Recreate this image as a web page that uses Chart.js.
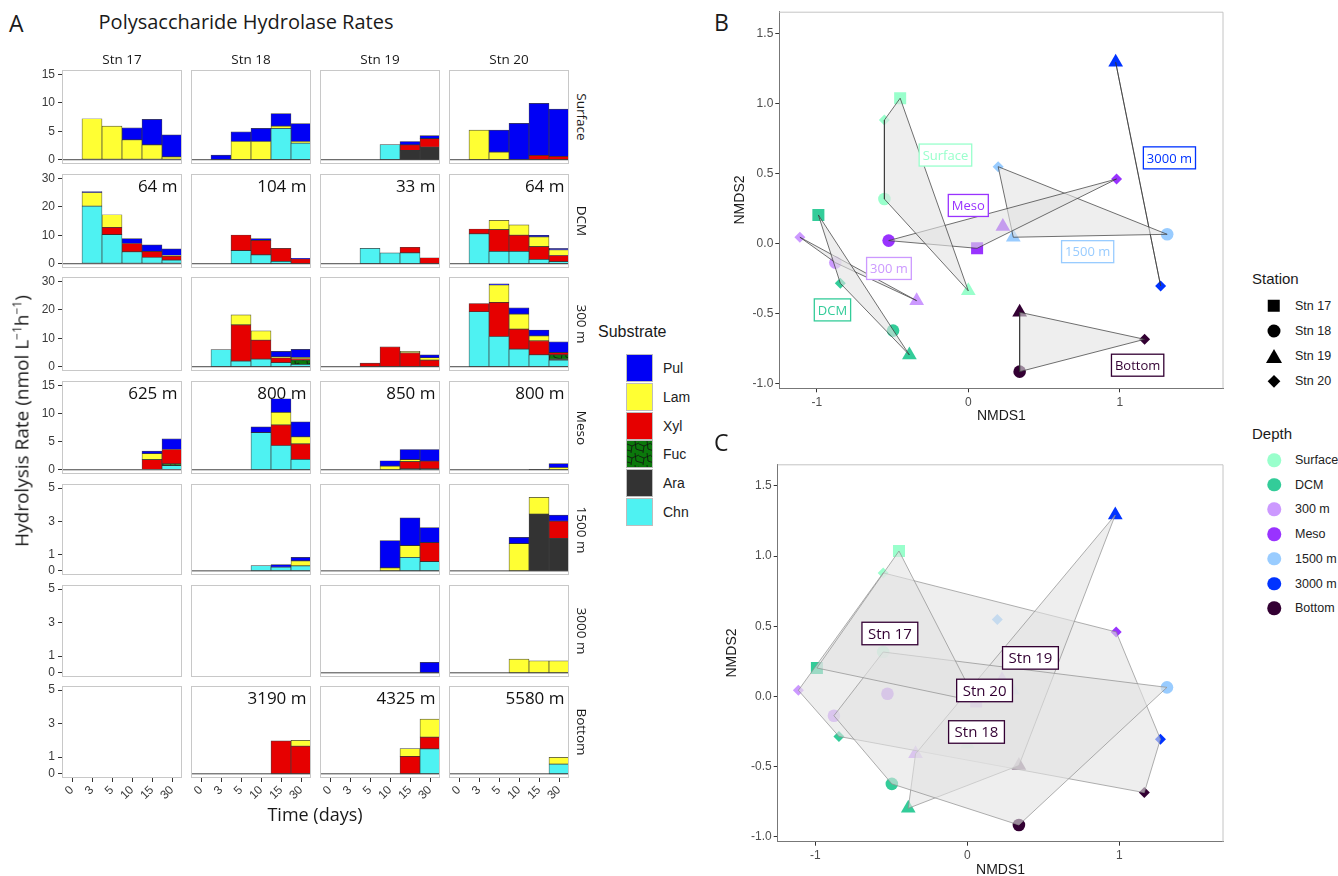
<!DOCTYPE html>
<html>
<head>
<meta charset="utf-8">
<title>Polysaccharide Hydrolase Rates</title>
<script src="https://cdn.jsdelivr.net/npm/chart.js@4.4.1/dist/chart.umd.min.js"></script>
<style>
  body { margin: 0; background: #fff; overflow: hidden; }
  #fig { position: relative; width: 1338px; height: 876px; font-family: "Open Sans", sans-serif; color: #1a1a1a; }
  #fig canvas, #fig .t { position: absolute; }
  #fig .t { white-space: nowrap; line-height: 1.2; }
</style>
</head>
<body>
<div id="fig"></div>
<script>
// ---- data ----
const DAYS = ['0', '3', '5', '10', '15', '30'];
const SUBSTRATES = ['Chn', 'Ara', 'Fuc', 'Xyl', 'Lam', 'Pul'];   // stacking order, bottom to top
const STATIONS = ['Stn 17', 'Stn 18', 'Stn 19', 'Stn 20'];
const DEPTHS = ['Surface', 'DCM', '300 m', 'Meso', '1500 m', '3000 m', 'Bottom'];
const ROW_MAX = [15, 30, 30, 15, 5, 5, 5];
const TICKS_15 = [0, 5, 10, 15];
const TICKS_30 = [0, 10, 20, 30];
const TICKS_5 = [0, 1, 3, 5];
const ROW_TICKS = [TICKS_15, TICKS_30, TICKS_30, TICKS_15, TICKS_5, TICKS_5, TICKS_5];
const DCM_DEPTH = ['64 m', '104 m', '33 m', '64 m'];
const MESO_DEPTH = ['625 m', '800 m', '850 m', '800 m'];
const BOTTOM_DEPTH = [null, '3190 m', '4325 m', '5580 m'];

// hydrolysis rates (nmol L-1 h-1); rows Chn, Ara, Fuc, Xyl, Lam, Pul; columns = DAYS
const STN17_SURFACE = [
  [0, 0, 0, 0, 0, 0],
  [0, 0, 0, 0, 0, 0],
  [0, 0, 0, 0, 0, 0],
  [0, 0, 0, 0, 0, 0],
  [0, 7.2, 5.9, 3.5, 2.6, 0.5],
  [0, 0, 0, 2.1, 4.5, 3.85]
];
const STN18_SURFACE = [
  [0, 0, 0, 0, 5.5, 2.9],
  [0, 0, 0, 0, 0, 0],
  [0, 0, 0, 0, 0, 0],
  [0, 0, 0, 0, 0, 0],
  [0, 0, 3.2, 3.2, 0.4, 0.3],
  [0, 0.8, 1.7, 2.3, 2.2, 3.15]
];
const STN19_SURFACE = [
  [0, 0, 0, 2.65, 0, 0],
  [0, 0, 0, 0, 1.65, 2.2],
  [0, 0, 0, 0, 0, 0],
  [0, 0, 0, 0, 0.95, 1.5],
  [0, 0, 0, 0, 0, 0],
  [0, 0, 0, 0, 0.6, 0.55]
];
const STN20_SURFACE = [
  [0, 0, 0, 0, 0, 0],
  [0, 0, 0, 0, 0, 0],
  [0, 0, 0, 0, 0, 0],
  [0, 0, 0, 0, 0.75, 0.6],
  [0, 5.2, 1.35, 0, 0, 0],
  [0, 0, 3.85, 6.4, 9.15, 8.3]
];
const STN17_DCM = [
  [0, 20.2, 10.2, 4.2, 2.2, 1.3],
  [0, 0, 0, 0, 0, 0],
  [0, 0, 0, 0, 0, 0],
  [0, 0, 2.6, 2.9, 2.15, 1.4],
  [0, 4.8, 4.4, 0, 0, 0.2],
  [0, 0.3, 0, 1.7, 2.25, 2.3]
];
const STN18_DCM = [
  [0, 0, 4.6, 3.1, 0.8, 0],
  [0, 0, 0, 0, 0, 0],
  [0, 0, 0, 0, 0, 0],
  [0, 0, 5.5, 5.1, 4.6, 1.7],
  [0, 0, 0, 0, 0, 0],
  [0, 0, 0, 0.6, 0, 0.2]
];
const STN19_DCM = [
  [0, 0, 5.4, 3.8, 3.8, 0],
  [0, 0, 0, 0, 0, 0],
  [0, 0, 0, 0, 0, 0],
  [0, 0, 0, 0, 2.0, 2.1],
  [0, 0, 0, 0, 0, 0],
  [0, 0, 0, 0, 0, 0]
];
const STN20_DCM = [
  [0, 10.5, 4.35, 4.35, 1.5, 0.7],
  [0, 0, 0, 0, 0, 0],
  [0, 0, 0, 0, 0, 0],
  [0, 1.7, 7.65, 5.65, 4.5, 2.2],
  [0, 0, 3.2, 3.65, 3.4, 2.0],
  [0, 0, 0, 0, 0.6, 0.5]
];
const STN18_300 = [
  [0, 6.0, 2.0, 2.7, 1.4, 0.8],
  [0, 0, 0, 0, 0, 0],
  [0, 0, 0, 0, 0, 1.5],
  [0, 0, 12.7, 6.6, 1.7, 0.5],
  [0, 0, 3.5, 3.3, 0.4, 0.5],
  [0, 0, 0, 0, 1.9, 2.8]
];
const STN19_300 = [
  [0, 0, 0, 0, 0, 0],
  [0, 0, 0, 0, 0, 0],
  [0, 0, 0, 0, 0, 0],
  [0, 0, 1.3, 7.0, 4.9, 2.35],
  [0, 0, 0, 0, 0.5, 0.8],
  [0, 0, 0, 0, 0, 1.0]
];
const STN20_300 = [
  [0, 19.3, 10.6, 6.2, 4.2, 2.35],
  [0, 0, 0, 0, 0, 0.3],
  [0, 0, 0, 0, 0, 1.5],
  [0, 2.9, 12.0, 7.0, 4.9, 0.8],
  [0, 0, 6.1, 5.3, 1.7, 0],
  [0, 0, 0.4, 2.2, 2.1, 3.8]
];
const STN17_MESO = [
  [0, 0, 0, 0, 0, 0.75],
  [0, 0, 0, 0, 0, 0],
  [0, 0, 0, 0, 0, 0.3],
  [0, 0, 0, 0, 1.8, 2.55],
  [0, 0, 0, 0, 1.05, 0],
  [0, 0, 0, 0, 0.45, 1.9]
];
const STN18_MESO = [
  [0, 0, 0, 6.6, 4.3, 1.85],
  [0, 0, 0, 0, 0, 0],
  [0, 0, 0, 0, 0, 0],
  [0, 0, 0, 0, 3.65, 2.75],
  [0, 0, 0, 0, 2.25, 1.25],
  [0, 0, 0, 1.0, 2.4, 2.65]
];
const STN19_MESO = [
  [0, 0, 0, 0, 0.15, 0.15],
  [0, 0, 0, 0, 0, 0],
  [0, 0, 0, 0, 0, 0],
  [0, 0, 0, 0, 1.3, 1.4],
  [0, 0, 0, 0.65, 0.35, 0],
  [0, 0, 0, 0.95, 1.8, 2.05]
];
const STN20_MESO = [
  [0, 0, 0, 0, 0, 0],
  [0, 0, 0, 0, 0.1, 0],
  [0, 0, 0, 0, 0, 0],
  [0, 0, 0, 0, 0, 0],
  [0, 0, 0, 0, 0, 0.4],
  [0, 0, 0, 0, 0, 0.7]
];
const STN18_1500 = [
  [0, 0, 0, 0.32, 0.22, 0.3],
  [0, 0, 0, 0, 0, 0],
  [0, 0, 0, 0, 0, 0],
  [0, 0, 0, 0, 0, 0],
  [0, 0, 0, 0, 0, 0.3],
  [0, 0, 0, 0, 0.16, 0.22]
];
const STN19_1500 = [
  [0, 0, 0, 0, 0.82, 0.56],
  [0, 0, 0, 0, 0, 0],
  [0, 0, 0, 0, 0, 0],
  [0, 0, 0, 0, 0, 1.15],
  [0, 0, 0, 0.18, 0.71, 0],
  [0, 0, 0, 1.65, 1.67, 0.9]
];
const STN20_1500 = [
  [0, 0, 0, 0, 0, 0],
  [0, 0, 0, 0, 3.43, 1.97],
  [0, 0, 0, 0, 0, 0],
  [0, 0, 0, 0, 0, 1.03],
  [0, 0, 0, 1.65, 1.01, 0],
  [0, 0, 0, 0.38, 0, 0.37]
];
const STN19_3000 = [
  [0, 0, 0, 0, 0, 0],
  [0, 0, 0, 0, 0, 0],
  [0, 0, 0, 0, 0, 0],
  [0, 0, 0, 0, 0, 0],
  [0, 0, 0, 0, 0, 0],
  [0, 0, 0, 0, 0, 0.62]
];
const STN20_3000 = [
  [0, 0, 0, 0, 0, 0],
  [0, 0, 0, 0, 0, 0],
  [0, 0, 0, 0, 0, 0],
  [0, 0, 0, 0, 0, 0],
  [0, 0, 0, 0.82, 0.72, 0.72],
  [0, 0, 0, 0, 0, 0]
];
const STN18_BOTTOM = [
  [0, 0, 0, 0, 0, 0],
  [0, 0, 0, 0, 0, 0],
  [0, 0, 0, 0, 0, 0],
  [0, 0, 0, 0, 1.97, 1.65],
  [0, 0, 0, 0, 0, 0.35],
  [0, 0, 0, 0, 0, 0]
];
const STN19_BOTTOM = [
  [0, 0, 0, 0, 0, 1.49],
  [0, 0, 0, 0, 0, 0],
  [0, 0, 0, 0, 0, 0],
  [0, 0, 0, 0, 1.04, 0.7],
  [0, 0, 0, 0, 0.47, 1.08],
  [0, 0, 0, 0, 0, 0]
];
const STN20_BOTTOM = [
  [0, 0, 0, 0, 0, 0.58],
  [0, 0, 0, 0, 0, 0],
  [0, 0, 0, 0, 0, 0],
  [0, 0, 0, 0, 0, 0],
  [0, 0, 0, 0, 0, 0.4],
  [0, 0, 0, 0, 0, 0]
];
// rows = DEPTHS, columns = STATIONS (null = not sampled)
const PANELS = [
  [STN17_SURFACE, STN18_SURFACE, STN19_SURFACE, STN20_SURFACE],
  [STN17_DCM, STN18_DCM, STN19_DCM, STN20_DCM],
  [null, STN18_300, STN19_300, STN20_300],
  [STN17_MESO, STN18_MESO, STN19_MESO, STN20_MESO],
  [null, STN18_1500, STN19_1500, STN20_1500],
  [null, null, STN19_3000, STN20_3000],
  [null, STN18_BOTTOM, STN19_BOTTOM, STN20_BOTTOM]
];

// NMDS scores, indexed by DEPTHS (null = not sampled)
const NMDS1_STN17 = [-0.45, -0.99, null, 0.058, null, null, null];
const NMDS2_STN17 = [1.036, 0.202, null, -0.036, null, null, null];
const NMDS1_STN18 = [-0.554, -0.497, -0.878, -0.526, 1.313, null, 0.339];
const NMDS2_STN18 = [0.316, -0.624, -0.138, 0.019, 0.064, null, -0.917];
const NMDS1_STN19 = [0.0, -0.389, -0.341, 0.228, 0.297, 0.973, 0.339];
const NMDS2_STN19 = [-0.34, -0.798, -0.41, 0.119, 0.043, 1.293, -0.493];
const NMDS1_STN20 = [-0.554, -0.845, -1.112, 0.979, 0.197, 1.27, 1.164];
const NMDS2_STN20 = [0.88, -0.286, 0.043, 0.459, 0.547, -0.305, -0.686];
const NMDS1 = [NMDS1_STN17, NMDS1_STN18, NMDS1_STN19, NMDS1_STN20];
const NMDS2 = [NMDS2_STN17, NMDS2_STN18, NMDS2_STN19, NMDS2_STN20];

// label anchors (data units)
const DEPTH_LABEL_X = [-0.151, -0.897, -0.524, 0.0, 0.788, 1.328, 1.118];
const DEPTH_LABEL_Y = [0.63, -0.476, -0.18, 0.27, -0.06, 0.61, -0.871];
const STN_LABEL_X = [-0.51, 0.06, 0.415, 0.113];
const STN_LABEL_Y = [0.448, -0.254, 0.274, 0.042];
const NMDS_X_TICKS = [-1, 0, 1];
const NMDS_Y_TICKS = [-1, -0.5, 0, 0.5, 1, 1.5];

// ---- styles ----
const SUB_COLORS = ['#4ef2f2', '#333333', '#0b780b', '#e60000', '#ffff33', '#0000f5'];
const DEPTH_COLORS = ['#99ffcc', '#33cc99', '#cc99ff', '#9933ff', '#99ccff', '#0033ff', '#330033'];
const STN_SHAPES = ['rect', 'circle', 'triangle', 'rectRot'];
const STN_RADIUS = [8.5, 6.3, 8.5, 5.5];

Chart.defaults.font.family = '"Liberation Sans", Arial, sans-serif';
Chart.defaults.color = '#4d4d4d';

const fig = document.getElementById('fig');

function txt(html, css) {
  const d = document.createElement('div');
  d.className = 't';
  d.innerHTML = html;
  Object.assign(d.style, css);
  fig.appendChild(d);
  return d;
}
function addCanvas(left, top, w, h) {
  const c = document.createElement('canvas');
  c.width = w; c.height = h;
  Object.assign(c.style, { left: left + 'px', top: top + 'px', width: w + 'px', height: h + 'px' });
  fig.appendChild(c);
  return c;
}

// Fucoidan is drawn with a cracked dark-green texture
function fucTile() {
  const c = document.createElement('canvas');
  c.width = 12; c.height = 12;
  const g = c.getContext('2d');
  g.fillStyle = SUB_COLORS[2];
  g.fillRect(0, 0, 12, 12);
  g.strokeStyle = '#111';
  g.lineWidth = 0.8;
  g.beginPath();
  g.moveTo(0, 3); g.lineTo(5, 5); g.lineTo(12, 2);
  g.moveTo(5, 5); g.lineTo(4, 12);
  g.moveTo(8, 0); g.lineTo(9, 8); g.lineTo(12, 9);
  g.moveTo(0, 9); g.lineTo(4, 10);
  g.stroke();
  return c;
}
const FUC_TILE = fucTile();
const FUC_PATTERN = FUC_TILE.getContext('2d').createPattern(FUC_TILE, 'repeat');
const SUB_FILLS = SUB_COLORS.map((c, i) => i === 2 ? FUC_PATTERN : c);

// ---- panel A ----
const COL_LEFT = [62, 191, 320, 449];
const PANEL_W = 120;
const ROW_TOP = [70, 174, 277, 381, 484, 585, 686];
const ROW_H = [94, 94, 94, 93, 91, 92, 92];
const YAXIS_W = 40, XAXIS_H = 30, LABEL_ROOM = 8;

const panelBox = {
  id: 'panelBox',
  afterDatasetsDraw(chart, args, opts) {
    const { ctx, chartArea: a, scales: { x, y } } = chart;
    ctx.save();
    if (opts.baseline) {
      const step = x.getPixelForValue(1) - x.getPixelForValue(0);
      const y0 = y.getPixelForValue(0);
      ctx.strokeStyle = '#444';
      ctx.lineWidth = 1;
      ctx.beginPath();
      ctx.moveTo(x.getPixelForValue(0) - step / 2, y0);
      ctx.lineTo(x.getPixelForValue(DAYS.length - 1) + step / 2, y0);
      ctx.stroke();
    }
    ctx.strokeStyle = '#c8c8c8';
    ctx.lineWidth = 1;
    ctx.strokeRect(a.left + 0.5, a.top + 0.5, a.width - 1, a.height - 1);
    ctx.restore();
  }
};

DEPTHS.forEach((depth, r) => {
  STATIONS.forEach((stn, c) => {
    const panel = PANELS[r][c];
    const firstCol = c === 0, lastRow = r === DEPTHS.length - 1;
    const room = firstCol ? LABEL_ROOM : 0;     // space above the box for the top tick label
    const left = COL_LEFT[c] - (firstCol ? YAXIS_W : 0);
    const w = PANEL_W + (firstCol ? YAXIS_W : 0);
    const h = ROW_H[r] + room + (lastRow ? XAXIS_H : 0);
    const canvas = addCanvas(left, ROW_TOP[r] - room, w, h);
    const max = ROW_MAX[r];
    new Chart(canvas, {
      type: 'bar',
      data: {
        labels: DAYS,
        datasets: panel ? SUBSTRATES.map((s, k) => ({
          label: s,
          data: panel[k],
          backgroundColor: SUB_FILLS[k],
          borderColor: 'rgba(35,35,35,0.85)',
          borderWidth: 0.7,
          borderSkipped: false,
          barPercentage: 1,
          categoryPercentage: 1
        })) : []
      },
      options: {
        responsive: false, animation: false, events: [], devicePixelRatio: 1,
        layout: { padding: { top: room, left: 0, right: 0, bottom: 0 } },
        plugins: { legend: { display: false }, tooltip: { enabled: false }, panelBox: { baseline: !!panel } },
        scales: {
          x: {
            stacked: true, offset: true, display: lastRow,
            grid: { offset: false, drawOnChartArea: false, tickLength: 4, color: '#333' },
            border: { display: false },
            ticks: { autoSkip: false, minRotation: 45, maxRotation: 45, padding: 1, color: '#3a3a3a', font: { size: 12 } },
            afterFit: s => {
              if (!lastRow) return;
              s.height = XAXIS_H;
              s.paddingLeft = 0; s.paddingRight = 0;
            }
          },
          y: {
            stacked: true, min: -0.05 * max, max: 1.05 * max, display: firstCol,
            afterBuildTicks: s => { s.ticks = ROW_TICKS[r].map(v => ({ value: v })); },
            grid: { drawOnChartArea: false, tickLength: 4, color: '#333' },
            border: { display: false },
            ticks: { padding: 3, color: '#3a3a3a', font: { size: 12 } },
            afterFit: s => {
              if (!firstCol) return;
              s.width = YAXIS_W;
              s.paddingTop = 0; s.paddingBottom = 0;
            }
          }
        }
      },
      plugins: [panelBox]
    });

    const tag = r === 1 ? DCM_DEPTH[c] : r === 3 ? MESO_DEPTH[c] : r === 6 ? BOTTOM_DEPTH[c] : null;
    if (tag) {
      txt(tag, { left: (COL_LEFT[c] + PANEL_W - 4.5) + 'px', top: (ROW_TOP[r] + 1.5) + 'px',
        transform: 'translateX(-100%)', fontSize: '17px', lineHeight: '20px', color: '#111' });
    }
  });
  txt(depth, { left: '582px', top: (ROW_TOP[r] + ROW_H[r] / 2) + 'px', fontSize: '13.5px',
    transform: 'translate(-50%,-50%) rotate(90deg)' });
});
STATIONS.forEach((stn, c) => {
  txt(stn, { left: (COL_LEFT[c] + PANEL_W / 2) + 'px', top: '59px', fontSize: '13.5px', transform: 'translate(-50%,-50%)' });
});
txt('A', { left: '9px', top: '10px', fontSize: '23px' });
txt('Polysaccharide Hydrolase Rates', { left: '246px', top: '22px', fontSize: '20px', transform: 'translate(-50%,-50%)' });
txt('Hydrolysis Rate (nmol L<sup style="font-size:12px">\u22121</sup>h<sup style="font-size:12px">\u22121</sup>)',
  { left: '22px', top: '421px', fontSize: '19px', transform: 'translate(-50%,-50%) rotate(-90deg)' });
txt('Time (days)', { left: '315px', top: '815px', fontSize: '18px', transform: 'translate(-50%,-50%)' });

// substrate legend
txt('Substrate', { left: '598px', top: '322px', fontSize: '16px', fontFamily: '"Liberation Sans", Arial, sans-serif' });
const FUC_URL = FUC_TILE.toDataURL();
SUBSTRATES.slice().reverse().forEach((s, i) => {
  const k = SUBSTRATES.length - 1 - i;
  const top = 354 + i * 28.8;
  txt('', { left: '626px', top: top + 'px', width: '27px', height: '28px', boxSizing: 'border-box',
    border: '1px solid #bdbdbd', background: k === 2 ? 'url(' + FUC_URL + ')' : SUB_COLORS[k] });
  txt(s, { left: '663px', top: (top + 14) + 'px', fontSize: '14px', transform: 'translateY(-50%)',
    fontFamily: '"Liberation Sans", Arial, sans-serif', color: '#222' });
});

// ---- panels B and C ----
function hull(pts) {
  const p = pts.slice().sort((a, b) => a.x - b.x || a.y - b.y);
  if (p.length < 3) return p;
  const cross = (o, a, b) => (a.x - o.x) * (b.y - o.y) - (a.y - o.y) * (b.x - o.x);
  const lower = [], upper = [];
  for (const q of p) {
    while (lower.length >= 2 && cross(lower[lower.length - 2], lower[lower.length - 1], q) <= 0) lower.pop();
    lower.push(q);
  }
  for (const q of p.slice().reverse()) {
    while (upper.length >= 2 && cross(upper[upper.length - 2], upper[upper.length - 1], q) <= 0) upper.pop();
    upper.push(q);
  }
  return lower.slice(0, -1).concat(upper.slice(0, -1));
}
function samples() {
  const out = [];
  STATIONS.forEach((s, si) => DEPTHS.forEach((d, di) => {
    if (NMDS1[si][di] !== null) out.push({ x: NMDS1[si][di], y: NMDS2[si][di], stn: si, depth: di });
  }));
  return out;
}
const SAMPLES = samples();

const frame = {
  id: 'frame',
  beforeDatasetsDraw(chart) {
    const { ctx, chartArea: a } = chart;
    ctx.save();
    ctx.strokeStyle = '#c4c4c4';
    ctx.lineWidth = 1;
    ctx.beginPath();
    ctx.moveTo(a.left, a.top + 0.5); ctx.lineTo(a.right - 0.5, a.top + 0.5); ctx.lineTo(a.right - 0.5, a.bottom);
    ctx.stroke();
    ctx.restore();
  }
};
const boxLabels = {
  id: 'boxLabels',
  afterDatasetsDraw(chart, args, o) {
    const { ctx, scales: { x, y } } = chart;
    ctx.save();
    ctx.font = o.font;
    ctx.textAlign = 'center';
    ctx.textBaseline = 'middle';
    o.text.forEach((t, i) => {
      const px = x.getPixelForValue(o.xs[i]), py = y.getPixelForValue(o.ys[i]);
      const w = ctx.measureText(t).width + 2 * o.padX, h = o.h;
      ctx.fillStyle = '#fff';
      ctx.fillRect(px - w / 2, py - h / 2, w, h);
      ctx.strokeStyle = o.colors[i];
      ctx.lineWidth = 1.3;
      ctx.strokeRect(px - w / 2, py - h / 2, w, h);
      ctx.fillStyle = o.colors[i];
      ctx.fillText(t, px, py + 1);
    });
    ctx.restore();
  }
};

function nmdsChart(canvas, groups, polyLine, labels, yAxisW, xAxisH, padTop) {
  const pointSets = STATIONS.map((s, si) => {
    const pts = SAMPLES.filter(p => p.stn === si);
    return {
      type: 'scatter', data: pts, order: 2,
      pointStyle: STN_SHAPES[si], pointRadius: STN_RADIUS[si],
      pointBackgroundColor: pts.map(p => DEPTH_COLORS[p.depth]), pointBorderWidth: 0
    };
  });
  const polySets = groups.map(g => {
    const hp = hull(g);
    return {
      type: 'line', data: hp.concat([hp[0]]), order: 1, fill: 'shape', tension: 0,
      backgroundColor: 'rgba(226,226,226,0.6)', borderColor: polyLine, borderWidth: 0.7, pointRadius: 0
    };
  });
  return new Chart(canvas, {
    type: 'scatter',
    data: { datasets: pointSets.concat(polySets) },
    options: {
      responsive: false, animation: false, events: [], devicePixelRatio: 1,
      layout: { padding: { top: padTop, right: 2.5, left: 0, bottom: 0 } },
      plugins: { legend: { display: false }, tooltip: { enabled: false }, boxLabels: labels },
      scales: {
        x: {
          type: 'linear', min: -1.248, max: 1.685,
          afterBuildTicks: s => { s.ticks = NMDS_X_TICKS.map(v => ({ value: v })); },
          grid: { drawOnChartArea: false, tickLength: 4, color: '#333' },
          border: { display: true, color: '#777', width: 1 },
          ticks: { padding: 3, color: '#4d4d4d', font: { size: 12 }, callback: v => String(v) },
          title: { display: true, text: 'NMDS1', color: '#1a1a1a', font: { size: 14 }, padding: 0 },
          afterFit: s => { s.height = xAxisH; s.paddingLeft = 0; s.paddingRight = 0; }
        },
        y: {
          type: 'linear', min: -1.036, max: 1.654,
          afterBuildTicks: s => { s.ticks = NMDS_Y_TICKS.map(v => ({ value: v })); },
          grid: { drawOnChartArea: false, tickLength: 4, color: '#333' },
          border: { display: true, color: '#777', width: 1 },
          ticks: { padding: 2, color: '#4d4d4d', font: { size: 12 }, callback: v => v.toFixed(1) },
          title: { display: true, text: 'NMDS2', color: '#1a1a1a', font: { size: 14 }, padding: 0 },
          afterFit: s => { s.width = yAxisW; s.paddingTop = 0; s.paddingBottom = 0; }
        }
      }
    },
    plugins: [frame, boxLabels]
  });
}

const byDepth = DEPTHS.map((d, di) => SAMPLES.filter(p => p.depth === di));
const byStation = STATIONS.map((s, si) => SAMPLES.filter(p => p.stn === si));

nmdsChart(addCanvas(732, 0, 500, 425), byDepth, '#333',
  { text: DEPTHS, xs: DEPTH_LABEL_X, ys: DEPTH_LABEL_Y, colors: DEPTH_COLORS, font: '13px "Open Sans"', padX: 3.5, h: 22 },
  47.3, 36.7, 11.7);
nmdsChart(addCanvas(724, 440, 508, 439), byStation, '#8c8c8c',
  { text: STATIONS, xs: STN_LABEL_X, ys: STN_LABEL_Y, colors: STATIONS.map(() => DEPTH_COLORS[6]), font: '15px "Open Sans"', padX: 6, h: 22.5 },
  53.7, 37.3, 24.3);

txt('B', { left: '714px', top: '9px', fontSize: '23px' });
txt('C', { left: '714px', top: '429px', fontSize: '23px' });

// station / depth legends
const LEG_FONT = '"Liberation Sans", Arial, sans-serif';
txt('Station', { left: '1252px', top: '270px', fontSize: '15px', fontFamily: LEG_FONT });
const STN_KEY_CSS = [
  { width: '12.5px', height: '12.5px', background: '#000' },
  { width: '13px', height: '13px', background: '#000', borderRadius: '50%' },
  { width: 0, height: 0, borderLeft: '8px solid transparent', borderRight: '8px solid transparent', borderBottom: '14px solid #000' },
  { width: '8.5px', height: '8.5px', background: '#000', transform: 'translate(-50%,-50%) rotate(45deg)' }
];
STATIONS.forEach((s, i) => {
  const cy = 305.7 + i * 25;
  txt('', Object.assign({ left: '1273.5px', top: cy + 'px', transform: 'translate(-50%,-50%)' }, STN_KEY_CSS[i]));
  txt(s, { left: '1295px', top: cy + 'px', fontSize: '12.5px', transform: 'translateY(-50%)', fontFamily: LEG_FONT, color: '#222' });
});
txt('Depth', { left: '1252px', top: '425px', fontSize: '15px', fontFamily: LEG_FONT });
DEPTHS.forEach((d, i) => {
  const cy = 460 + i * 24.7;
  txt('', { left: '1274px', top: cy + 'px', width: '13.5px', height: '13.5px', borderRadius: '50%',
    background: DEPTH_COLORS[i], transform: 'translate(-50%,-50%)' });
  txt(d, { left: '1295px', top: cy + 'px', fontSize: '12.5px', transform: 'translateY(-50%)', fontFamily: LEG_FONT, color: '#222' });
});
</script>
</body>
</html>
